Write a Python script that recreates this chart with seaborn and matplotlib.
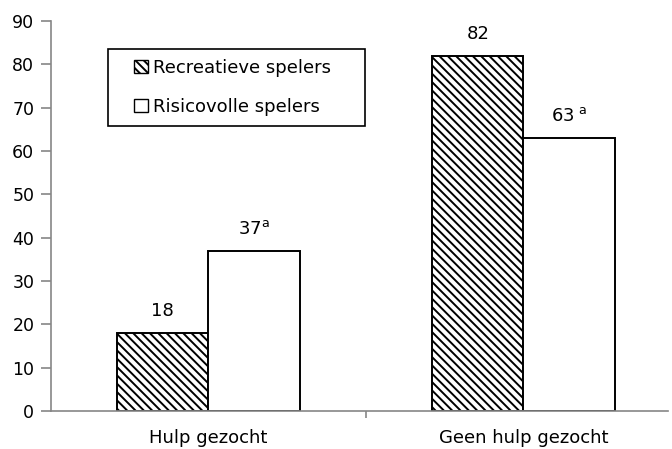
import numpy as np
import pandas as pd
import matplotlib
matplotlib.use('Agg')
import matplotlib.pyplot as plt
from matplotlib.patches import Patch, Rectangle
import seaborn as sns

# --- DATA ---
groepen = ['Hulp gezocht', 'Geen hulp gezocht']
reeksen = ['Recreatieve spelers', 'Risicovolle spelers']
recreatief = [18, 82]
risicovol = [37, 63]
labels_recreatief = ['18', '82']
labels_risicovol = ['$\\mathregular{37^{a}}$', '$\\mathregular{63^{\\ a}}$']
y_ticks = [0, 10, 20, 30, 40, 50, 60, 70, 80, 90]

df = pd.DataFrame({
    'groep': groepen * 2,
    'type': [reeksen[0]] * 2 + [reeksen[1]] * 2,
    'pct': recreatief + risicovol,
})

plt.rcParams['font.family'] = ['DejaVu Sans']
plt.rcParams['hatch.linewidth'] = 1.4
plt.rcParams['hatch.color'] = 'black'

FS = 13

fig = plt.figure(figsize=(6.72, 4.49), dpi=100)
ax = fig.add_axes([51 / 672, 38 / 449, (668 - 51) / 672, 390 / 449])

sns.barplot(data=df, x='groep', y='pct', hue='type', order=groepen, hue_order=reeksen,
            palette=['white', 'white'], edgecolor='black', linewidth=1.4,
            width=0.58, dodge=True, legend=False, ax=ax)

# arcering voor de recreatieve spelers
for bar in ax.containers[0]:
    bar.set_hatch('\\\\\\\\')

ax.bar_label(ax.containers[0], labels=labels_recreatief, padding=9, fontsize=FS)
ax.bar_label(ax.containers[1], labels=labels_risicovol, padding=9, fontsize=FS)

ax.set_xlim(-0.5, 1.459)
ax.set_ylim(0, 90)
ax.set_yticks(y_ticks)
ax.set_xlabel('')
ax.set_ylabel('')

# assen
grijs = '#868686'
for s in ['top', 'right']:
    ax.spines[s].set_visible(False)
for s in ['left', 'bottom']:
    ax.spines[s].set_color(grijs)
    ax.spines[s].set_linewidth(1.2)
ax.tick_params(axis='y', length=7, width=1.2, color=grijs, pad=5, labelsize=12.5)
ax.tick_params(axis='x', length=0, pad=13, labelsize=FS)
ax.set_xticks([0.5], minor=True)
ax.tick_params(axis='x', which='minor', length=5, width=1.2, color=grijs)

# legenda met los kader
handles = [Patch(facecolor='white', edgecolor='black', hatch='\\\\\\\\', label=reeksen[0]),
           Patch(facecolor='white', edgecolor='black', label=reeksen[1])]
leg = ax.legend(handles=handles, loc='upper left', bbox_to_anchor=(134 / 672, 1 - 59 / 449),
                bbox_transform=fig.transFigure, fontsize=FS, frameon=False,
                handlelength=0.75, handleheight=0.75, handletextpad=0.3,
                borderpad=0, labelspacing=1.17, borderaxespad=0)
kader = Rectangle((108 / 672, 1 - 126 / 449), (365 - 108) / 672, (126 - 49) / 449,
                  transform=fig.transFigure, facecolor='none', edgecolor='black',
                  linewidth=1.2, zorder=5)
fig.patches.append(kader)

fig.savefig('out.png', dpi=100)
